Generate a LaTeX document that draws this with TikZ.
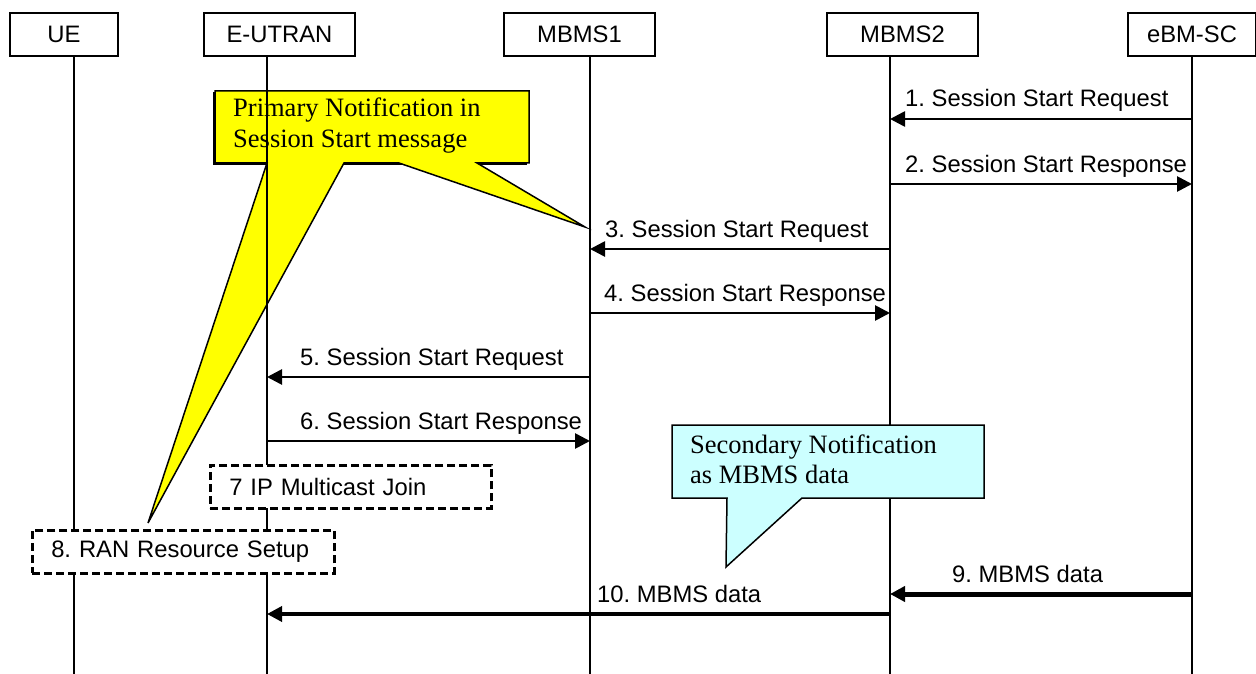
\documentclass[tikz,border=0pt]{standalone}
\usepackage{fontspec}
\setmainfont{Liberation Sans}
\newfontfamily\notefont{Liberation Serif}
\usetikzlibrary{arrows.meta}
\definecolor{noteyellow}{RGB}{255,255,0}
\definecolor{notecyan}{RGB}{204,255,255}
\frenchspacing
\begin{document}
\begin{tikzpicture}[x=1pt,y=-1pt,
  every node/.style={font=\fontsize{23.8}{28}\selectfont, inner sep=0pt},
  head/.style={draw, line width=2pt, minimum height=43pt, anchor=north west},
  life/.style={line width=1.8pt},
  msg/.style={line width=2.7pt, -{Triangle[length=15pt,width=15pt]}},
  lbl/.style={anchor=base west},
  dbox/.style={draw, fill=white, line width=2.5pt, dash pattern=on 8pt off 4pt,
    minimum height=43pt, align=left, inner xsep=19pt, anchor=north west},
  note/.style={font=\notefont\fontsize{26.5}{30.5}\selectfont, anchor=base west},
  callout/.style={draw, line width=1.5pt, line join=miter}
]
\useasboundingbox (0,0) rectangle (1256,674);

% entity headers
\node[head, minimum width=108pt] (ue)    at (9,12)    {UE};
\node[head, minimum width=151pt] (enb)   at (203,12)  {E-UTRAN};
\node[head, minimum width=151pt] (mb1)   at (503,12)  {MBMS1};
\node[head, minimum width=151pt] (mb2)   at (826,12)  {MBMS2};
\node[head, minimum width=128pt] (bmsc)  at (1127,12) {eBM-SC};

% lifeline ends
\coordinate (ueB)   at (74,674);
\coordinate (enbB)  at (267,674);
\coordinate (mb1B)  at (590,674);
\coordinate (mb2B)  at (890,674);
\coordinate (bmscB) at (1192,674);

% primary notification callout (under the lifelines)
\fill[black] (212.5,92.5) rectangle (527,165.5);
\path[callout, fill=noteyellow]
  (215,91) -- (529,91) -- (529,163) -- (477,163) -- (585,227) -- (399,163)
  -- (344,163) -- (148,523) -- (267,163) -- (215,163) -- cycle;
\node[note] (pn1) at (233,117) {Primary Notification in};
\node[note] (pn2) at (233,148) {Session Start message};

% lifelines
\draw[life] (ue.south -| ueB)     -- (ueB);
\draw[life] (enb.south -| enbB)   -- (enbB);
\draw[life] (mb1.south -| mb1B)   -- (mb1B);
\draw[life] (mb2.south -| mb2B)   -- (mb2B);
\draw[life] (bmsc.south -| bmscB) -- (bmscB);

% local procedures
\node[dbox, text width=243pt] (join) at (209,464) {7 IP Multicast Join};
\node[dbox, text width=264pt] (ran)  at (31,529)  {8. RAN Resource Setup};

% secondary notification callout (over the lifeline)
\path[callout, fill=notecyan]
  (672,425) -- (984,425) -- (984,498) -- (802,498) -- (726,567) -- (727,498)
  -- (672,498) -- cycle;
\node[note] (sn1) at (690,453) {Secondary Notification};
\node[note] (sn2) at (690,483) {as MBMS data};

% message rows
\coordinate (r1)  at (0,119);
\coordinate (r2)  at (0,184);
\coordinate (r3)  at (0,249);
\coordinate (r4)  at (0,313);
\coordinate (r5)  at (0,377);
\coordinate (r6)  at (0,441);
\coordinate (r9)  at (0,594);
\coordinate (r10) at (0,614);

\draw[msg] (bmscB |- r1) -- (mb2B |- r1);
\node[lbl] (m1) at (905,107) {1. Session Start Request};
\draw[msg] (mb2B |- r2) -- (bmscB |- r2);
\node[lbl] (m2) at (905,172) {2. Session Start Response};
\draw[msg] (mb2B |- r3) -- (mb1B |- r3);
\node[lbl] (m3) at (605,237) {3. Session Start Request};
\draw[msg] (mb1B |- r4) -- (mb2B |- r4);
\node[lbl] (m4) at (604,301) {4. Session Start Response};
\draw[msg] (mb1B |- r5) -- (enbB |- r5);
\node[lbl] (m5) at (300,365) {5. Session Start Request};
\draw[msg] (enbB |- r6) -- (mb1B |- r6);
\node[lbl] (m6) at (300,429) {6. Session Start Response};
\draw[msg, line width=5pt] (bmscB |- r9) -- (mb2B |- r9);
\node[lbl] (m9) at (952,582) {9. MBMS data};
\draw[msg, line width=3.5pt] (mb2B |- r10) -- (enbB |- r10);
\node[lbl] (m10) at (597,602) {10. MBMS data};
\end{tikzpicture}
\end{document}
